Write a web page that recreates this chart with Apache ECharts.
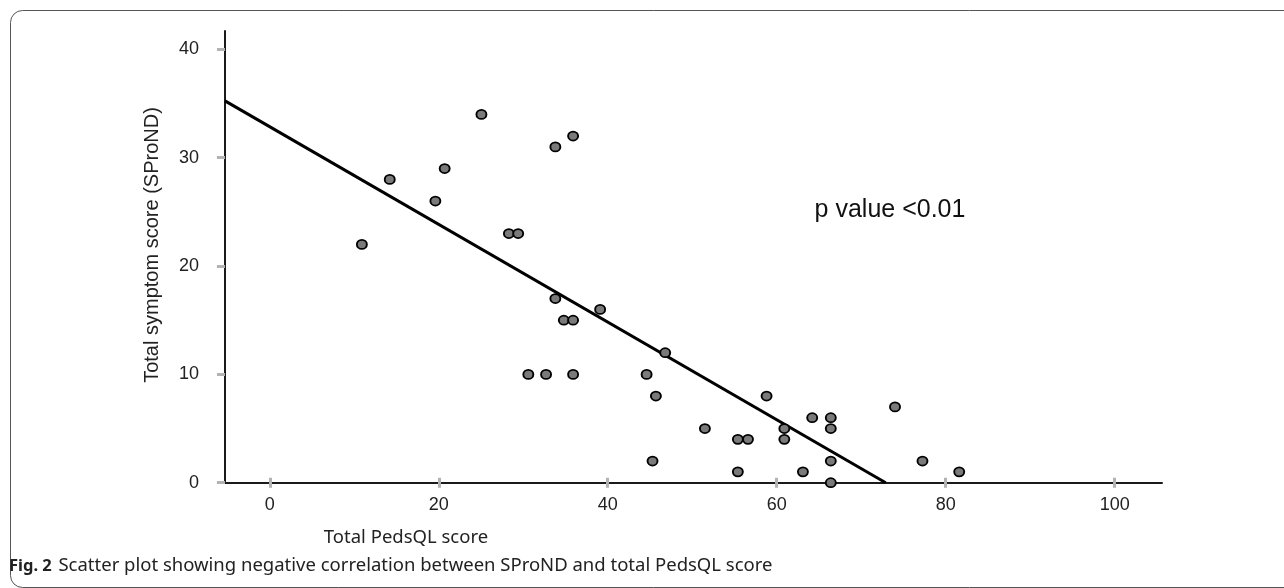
<!DOCTYPE html>
<html>
<head>
<meta charset="utf-8">
<script src="https://cdn.jsdelivr.net/npm/echarts@6/dist/echarts.min.js"></script>
<style>
html,body{margin:0;padding:0;background:#fff;}
#chart{width:1284px;height:588px;}
</style>
</head>
<body>
<div id="chart"></div>
<script>
// Total PedsQL score (x) and total symptom score SProND (y)
var pedsql = [10.9, 14.2, 19.6, 20.7, 25.05, 28.3, 29.4, 33.8, 35.9, 33.8, 34.8, 35.9, 39.1,
              30.6, 32.7, 35.9, 44.6, 46.8, 45.7, 45.3, 51.5, 55.4, 56.6, 55.4, 58.8, 60.9,
              60.9, 64.2, 63.1, 66.4, 66.4, 66.4, 66.4, 74.0, 77.25, 81.6];
var sprond = [22, 28, 26, 29, 34, 23, 23, 31, 32, 17, 15, 15, 16,
              10, 10, 10, 10, 12, 8, 2, 5, 4, 4, 1, 8, 5,
              4, 6, 1, 6, 5, 2, 0, 7, 2, 1];
// regression line end points
var fitX = [-5.3, 72.9];
var fitY = [35.25, 0];
var xTicks = [0, 20, 40, 60, 80, 100];
var yTicks = [0, 10, 20, 30, 40];

var points = pedsql.map(function (x, i) { return [x, sprond[i]]; });
var fit = fitX.map(function (x, i) { return [x, fitY[i]]; });

var chart = echarts.init(document.getElementById('chart'), null, {renderer: 'canvas'});
var labelFont = 'Liberation Sans, Arial, sans-serif';
var option = {
  animation: false,
  backgroundColor: '#ffffff',
  grid: {left: 225, right: 122, top: 31, bottom: 105.3, containLabel: false},
  xAxis: [{
    type: 'value', min: -5.3, max: 105.6,
    splitLine: {show: false},
    axisLine: {show: true, onZero: false, lineStyle: {color: '#1a1a1a', width: 2}},
    axisTick: {show: true, inside: false, length: 5, customValues: xTicks, lineStyle: {color: '#b3b3b3', width: 3}},
    axisLabel: {show: true, customValues: xTicks, margin: 13, color: '#222', fontSize: 18, fontFamily: labelFont}
  }, {
    type: 'value', min: -5.3, max: 105.6, position: 'bottom',
    splitLine: {show: false},
    axisLine: {show: false},
    axisTick: {show: true, inside: true, length: 5, customValues: xTicks, lineStyle: {color: '#b3b3b3', width: 3}},
    axisLabel: {show: false}
  }],
  yAxis: {
    type: 'value', min: 0, max: 41.7, interval: 10,
    splitLine: {show: false},
    axisLine: {show: true, onZero: false, lineStyle: {color: '#1a1a1a', width: 2}},
    axisTick: {show: true, inside: false, length: 8, customValues: yTicks, lineStyle: {color: '#b3b3b3', width: 3}},
    axisLabel: {show: true, customValues: yTicks, margin: 26, color: '#222', fontSize: 18, fontFamily: labelFont}
  },
  series: [{
    type: 'line', data: fit, symbol: 'none', silent: true, z: 2,
    lineStyle: {color: '#000', width: 3}
  }, {
    type: 'scatter', data: points, symbol: 'circle', symbolSize: [10, 9], z: 3,
    itemStyle: {color: '#7a7a7a', borderColor: '#000', borderWidth: 1.8, opacity: 1}
  }],
  graphic: [{
    type: 'rect', silent: true, z: -1,
    shape: {x: 10.5, y: 10.5, width: 1290, height: 577, r: 12},
    style: {fill: 'none', stroke: '#555', lineWidth: 1}
  }, {
    type: 'text', silent: true, x: 152, y: 245, rotation: Math.PI / 2,
    style: {text: 'Total symptom score (SProND)', fill: '#222', font: '20px Liberation Sans, Arial, sans-serif', align: 'center', verticalAlign: 'middle'}
  }, {
    type: 'text', silent: true, x: 406, y: 538,
    style: {text: 'Total PedsQL score', fill: '#222', font: '18.5px Noto Sans, sans-serif', align: 'center', verticalAlign: 'middle'}
  }, {
    type: 'text', silent: true, x: 890, y: 210,
    style: {text: 'p value <0.01', fill: '#111', font: '25px Liberation Sans, Arial, sans-serif', align: 'center', verticalAlign: 'middle'}
  }, {
    type: 'text', silent: true, x: 9, y: 566,
    style: {
      text: '{b|Fig. 2}  {n|Scatter plot showing negative correlation between SProND and total PedsQL score}',
      verticalAlign: 'middle', align: 'left',
      rich: {
        b: {fontFamily: 'Noto Sans, sans-serif', fontWeight: 'bold', fontSize: 16.5, fill: '#222'},
        n: {fontFamily: 'Noto Sans, sans-serif', fontSize: 18.5, fill: '#222'}
      }
    }
  }]
};
chart.setOption(option);
</script>
</body>
</html>
